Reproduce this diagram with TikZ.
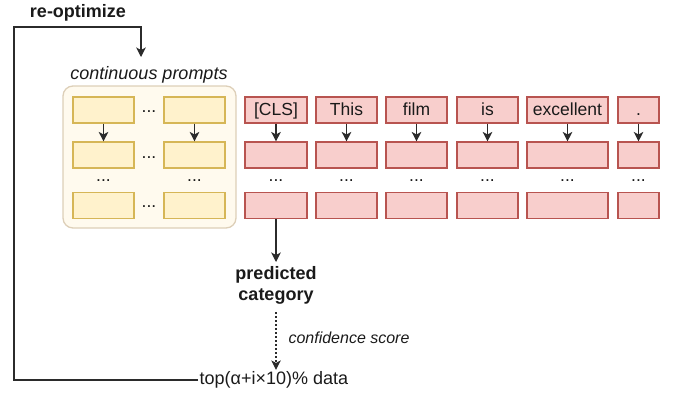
\documentclass[tikz,border=0pt]{standalone}
\usepackage{fontspec}
\setmainfont{Liberation Sans}
\usetikzlibrary{arrows.meta}
\definecolor{ylwfill}{HTML}{FFF2CC}
\definecolor{ylwline}{HTML}{D6B656}
\definecolor{redfill}{HTML}{F8CECC}
\definecolor{redline}{HTML}{B85450}
\definecolor{panelfill}{HTML}{FFFAEE}
\definecolor{panelline}{HTML}{DDCFB8}
\definecolor{inkgray}{HTML}{2B2B2B}
\definecolor{txt}{HTML}{1A1A1A}
\tikzset{
  base/.style={font=\fontsize{17.5}{21}\selectfont, text=txt},
  ybox/.style={draw=ylwline, fill=ylwfill, line width=1.1pt, minimum width=61pt,
    minimum height=26pt, inner sep=0pt},
  rbox/.style={draw=redline, fill=redfill, line width=1.1pt, minimum height=26pt,
    inner sep=0pt, text height=12.5pt, text depth=1pt},
  panel/.style={draw=panelline, fill=panelfill, line width=1.3pt, rounded corners=10pt,
    inner sep=0pt},
  dotsnode/.style={inner sep=0pt},
  link/.style={draw=inkgray, line width=1.2pt,
    -{Stealth[length=9.5pt,width=9.5pt,inset=2.5pt]}},
  dotlink/.style={link, dash pattern=on 2pt off 2pt},
}
\begin{document}
\begin{tikzpicture}[x=1pt, y=-1pt, base]
\useasboundingbox (0,0) rectangle (676,394);

% labels around the feedback loop
\node[font=\fontsize{18}{21}\selectfont\bfseries] (reopt) at (78,13) {re-optimize};
\node[font=\fontsize{18}{21}\selectfont\itshape] (cplabel) at (149,75) {continuous prompts};
\coordinate (loopend) at (141,57);

% panel holding the continuous prompt vectors
\node[panel, minimum width=173pt, minimum height=142pt] (panel) at (149.5,157) {};

% yellow prompt boxes
\node[ybox] (y11) at (103.5,110) {};
\node[ybox] (y12) at (194.5,110) {};
\node[ybox] (y21) at (103.5,155) {};
\node[ybox] (y22) at (194.5,155) {};
\node[ybox] (y31) at (103.5,205.5) {};
\node[ybox] (y32) at (194.5,205.5) {};
\node[dotsnode] (yd1) at (149,112) {...};
\node[dotsnode] (yd2) at (149,158) {...};
\node[dotsnode] (yd3) at (149,207) {...};
\node[dotsnode] (yd4) at (103.5,181) {...};
\node[dotsnode] (yd5) at (194.5,181) {...};
\draw[link] (y11) -- (y21);
\draw[link] (y12) -- (y22);

% token columns
\foreach \name/\x/\w/\tok in {cls/276/62/{[CLS]}, this/346.5/61/This, film/416.5/61/film,
    is/487.5/61/is, exc/567.5/81/excellent, dot/638.5/41/.}{
  \node[rbox, minimum width=\w pt] (\name1) at (\x,110) {\tok};
  \node[rbox, minimum width=\w pt] (\name2) at (\x,155) {};
  \node[rbox, minimum width=\w pt] (\name3) at (\x,205.5) {};
  \node[dotsnode] (\name d) at (\x,181) {...};
  \draw[link] (\name1) -- (\name2);
}

% prediction and selection
\node[font=\fontsize{18}{21}\selectfont\bfseries, align=center] (pred) at (276,285)
  {predicted\\category};
\node[inner sep=1.5pt, anchor=west, font=\fontsize{18}{21}\selectfont] (topdata)
  at (198,380) {top(α+i×10)\% data};
\node[font=\fontsize{16}{19}\selectfont\itshape, anchor=west] (conf) at (285,338)
  {confidence score};

\draw[link] (cls3.south) -- (276,262);
\draw[dotlink] (276,312) -- (topdata.north -| 276,0);
\draw[link] (topdata.west) -| (14,27) -| (loopend);
\end{tikzpicture}
\end{document}
